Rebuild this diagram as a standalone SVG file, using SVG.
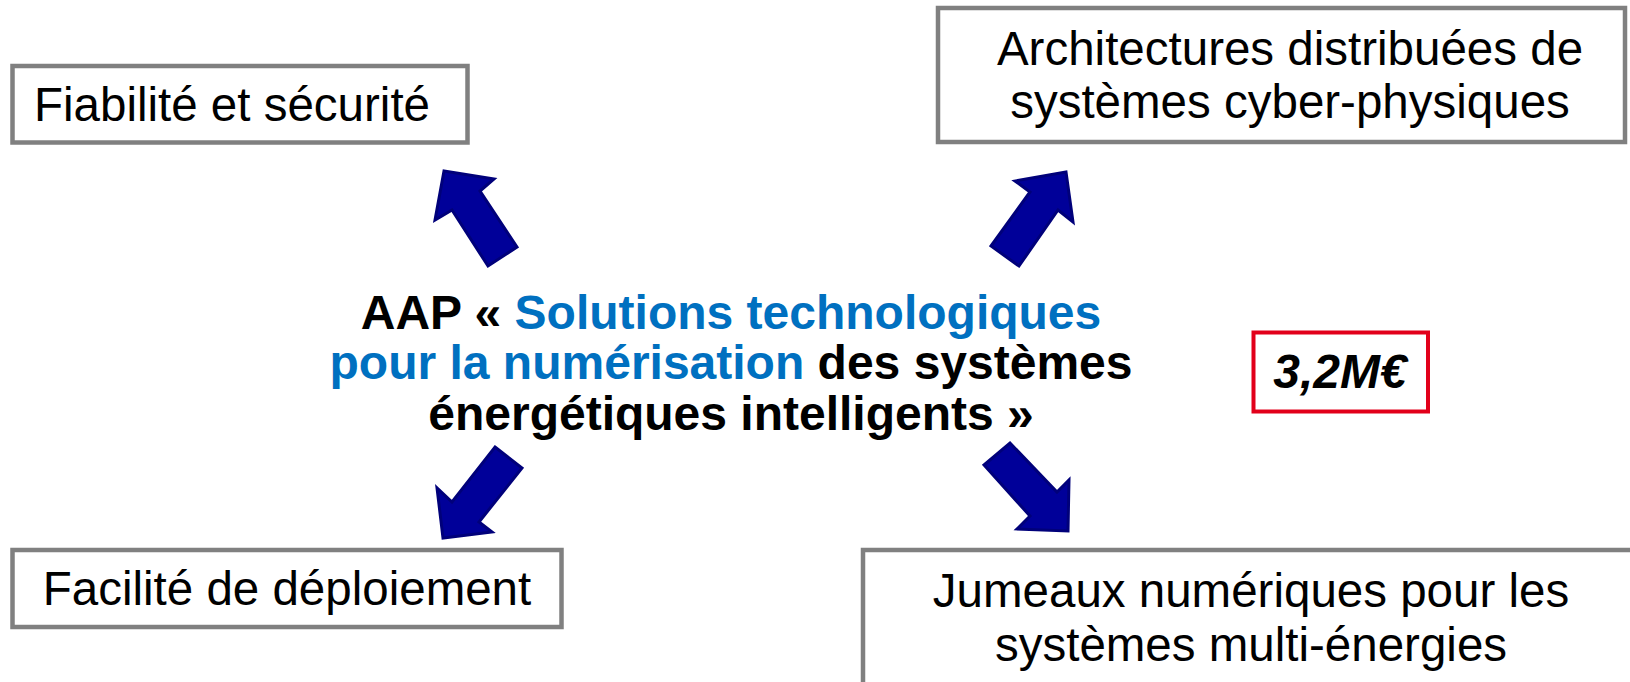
<svg xmlns="http://www.w3.org/2000/svg" width="1630" height="682" viewBox="0 0 1630 682">
<style>
.box{fill:#ffffff;stroke:#808080;stroke-width:4.5}
.t{font-family:"Liberation Sans",Arial,sans-serif;font-size:47.5px;fill:#000000}
.c{text-anchor:middle}
.b{font-weight:bold;font-size:48px}
.blue{fill:#0070c0}
.arrow{fill:#000099;stroke:#00007a;stroke-width:3;stroke-linejoin:miter}
</style>
<rect width="1630" height="682" fill="#ffffff"/>
<g id="node-fiabilite">
<rect class="box" x="12.5" y="66" width="455" height="76.5"/>
<text class="t" x="34" y="121">Fiabilité et sécurité</text>
</g>
<g id="node-architectures">
<rect class="box" x="938" y="8" width="687" height="134"/>
<text class="t c" x="1290" y="65">Architectures distribuées de</text>
<text class="t c" x="1290" y="118">systèmes cyber-physiques</text>
</g>
<g id="node-facilite">
<rect class="box" x="12.5" y="550" width="549" height="77"/>
<text class="t c" x="287" y="605">Facilité de déploiement</text>
</g>
<g id="node-jumeaux">
<rect class="box" x="863" y="550" width="800" height="160"/>
<text class="t c" x="1251" y="607">Jumeaux numériques pour les</text>
<text class="t c" x="1251" y="661">systèmes multi-énergies</text>
</g>
<g id="node-center">
<text class="t c b" x="731" y="329">AAP « <tspan class="blue">Solutions technologiques</tspan></text>
<text class="t c b" x="731" y="379"><tspan class="blue">pour la numérisation</tspan> des systèmes</text>
<text class="t c b" x="731" y="430">énergétiques intelligents »</text>
</g>
<g id="node-budget">
<rect x="1253.5" y="332.5" width="174.5" height="79" fill="#ffffff" stroke="#e2001a" stroke-width="4"/>
<text class="t c b" x="1340" y="388" font-style="italic">3,2M€</text>
</g>
<g id="connectors">
<polygon class="arrow" points="444,171 494,179 480,191 517,247 488,266 452,210 435,220"/>
<polygon class="arrow" points="1066,172 1015,181 1030,192 991,246 1019,266 1058,210 1073,222"/>
<polygon class="arrow" points="495,447 522,468 479,522 492,532 443,538 437,488 452,502"/>
<polygon class="arrow" points="984,465 1010,443 1057,492 1069,480 1068,531 1017,529 1030,516"/>
</g>
</svg>
